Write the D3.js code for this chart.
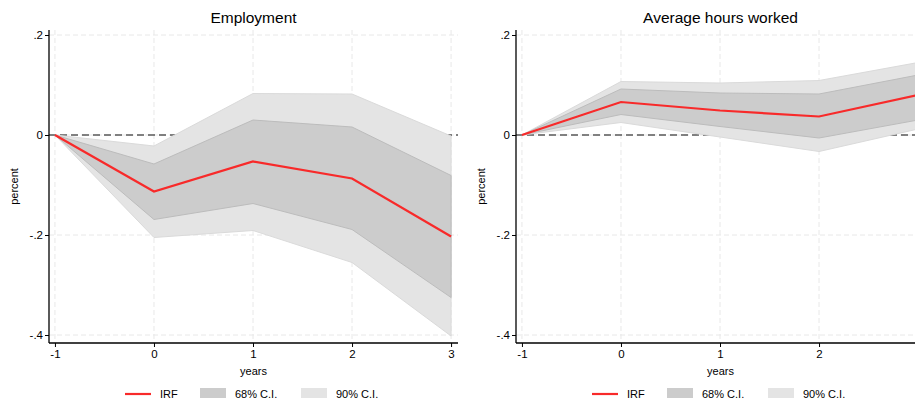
<!DOCTYPE html>
<html>
<head>
<meta charset="utf-8">
<script src="https://cdn.jsdelivr.net/npm/d3@7"></script>
<style>
  body { margin: 0; background: #fff; }
  svg { display: block; font-family: "Liberation Sans", Arial, sans-serif; }
</style>
</head>
<body>
<div id="chart"></div>
<script>
// horizon (years after shock)
var years = [-1, 0, 1, 2, 3];
var yTicks = [0.2, 0, -0.2, -0.4];
var yTickLabels = [".2", "0", "-.2", "-.4"];
var titles = ["Employment", "Average hours worked"];
var legendNames = ["IRF", "68% C.I.", "90% C.I."];

// Employment
var empIrf   = [0, -0.113, -0.053, -0.087, -0.203];
var empUp68  = [0, -0.058,  0.030,  0.016, -0.081];
var empLo68  = [0, -0.169, -0.137, -0.189, -0.325];
var empUp90  = [0, -0.022,  0.083,  0.082, -0.002];
var empLo90  = [0, -0.205, -0.191, -0.255, -0.402];

// Average hours worked
var hrsIrf   = [0, 0.066, 0.049, 0.037, 0.080];
var hrsUp68  = [0, 0.092, 0.084, 0.082, 0.120];
var hrsLo68  = [0, 0.041, 0.017, -0.006, 0.030];
var hrsUp90  = [0, 0.107, 0.104, 0.109, 0.145];
var hrsLo90  = [0, 0.025, -0.004, -0.033, 0.012];

var panels = [
  {title: titles[0], irf: empIrf, up68: empUp68, lo68: empLo68, up90: empUp90, lo90: empLo90, left: 49},
  {title: titles[1], irf: hrsIrf, up68: hrsUp68, lo68: hrsLo68, up90: hrsUp90, lo90: hrsLo90, left: 516}
];

var width = 915, height = 398;
var plotW = 409, plotTop = 30, plotBottom = 343;

var red = "#f82a2a", gray68 = "#cccccc", gray90 = "#e4e4e4";

var svg = d3.select("#chart").append("svg")
  .attr("width", width)
  .attr("height", height);

var y = d3.scaleLinear().domain([-0.416, 0.21]).range([plotBottom, plotTop]);

panels.forEach(function(p) {
  var x = d3.scaleLinear().domain([-1.06, 3.07]).range([p.left, p.left + plotW]);
  var g = svg.append("g");

  // grid
  g.selectAll(".hgrid").data(yTicks).enter().append("line")
    .attr("x1", p.left).attr("x2", p.left + plotW)
    .attr("y1", function(d) { return y(d); }).attr("y2", function(d) { return y(d); })
    .attr("stroke", "#e8e8e8").attr("stroke-dasharray", "5,3");
  g.selectAll(".vgrid").data(years).enter().append("line")
    .attr("x1", function(d) { return x(d); }).attr("x2", function(d) { return x(d); })
    .attr("y1", plotTop).attr("y2", plotBottom)
    .attr("stroke", "#e8e8e8").attr("stroke-dasharray", "5,3");

  // zero line
  g.append("line")
    .attr("x1", p.left).attr("x2", p.left + plotW)
    .attr("y1", y(0)).attr("y2", y(0))
    .attr("stroke", "#5a5a5a").attr("stroke-width", 1.4)
    .attr("stroke-dasharray", "7,4");

  var area = function(lo, up) {
    return d3.area()
      .x(function(d, i) { return x(years[i]); })
      .y0(function(d, i) { return y(lo[i]); })
      .y1(function(d, i) { return y(up[i]); })(years);
  };

  g.append("path").attr("d", area(p.lo90, p.up90))
    .attr("fill", gray90).attr("stroke", "#dadada").attr("stroke-width", 1);
  g.append("path").attr("d", area(p.lo68, p.up68))
    .attr("fill", gray68).attr("stroke", "#bcbcbc").attr("stroke-width", 1);

  g.append("path")
    .datum(p.irf)
    .attr("d", d3.line().x(function(d, i) { return x(years[i]); }).y(function(d) { return y(d); }))
    .attr("fill", "none").attr("stroke", red).attr("stroke-width", 2.2);

  // axes
  var yAxis = d3.axisLeft(y).tickValues(yTicks).tickSize(4).tickPadding(2)
    .tickFormat(function(d, i) { return yTickLabels[i]; });
  var ya = g.append("g").attr("transform", "translate(" + p.left + ",0)").call(yAxis);
  ya.select(".domain").attr("d", "M0," + plotTop + "V" + plotBottom);

  var xAxis = d3.axisBottom(x).tickValues(years).tickSize(4).tickPadding(3)
    .tickFormat(function(d) { return String(d); });
  var xa = g.append("g").attr("transform", "translate(0," + plotBottom + ")").call(xAxis);
  xa.select(".domain").attr("d", "M" + p.left + ",0H" + (p.left + plotW));

  [ya, xa].forEach(function(a) {
    a.selectAll("text").attr("font-size", 11.5).attr("fill", "#000").attr("font-family", "Liberation Sans, Arial, sans-serif");
    a.selectAll("line").attr("stroke", "#000");
    a.select(".domain").attr("stroke", "#000").attr("stroke-width", 1.3);
  });

  var cx = p.left + plotW / 2;
  g.append("text").attr("x", cx).attr("y", 23)
    .attr("text-anchor", "middle").attr("font-size", 15.5).text(p.title);
  g.append("text").attr("x", cx).attr("y", 375)
    .attr("text-anchor", "middle").attr("font-size", 11).text("years");
  g.append("text")
    .attr("transform", "translate(" + (p.left - 31) + "," + ((plotTop + plotBottom) / 2) + ") rotate(-90)")
    .attr("text-anchor", "middle").attr("font-size", 11).text("percent");

  // legend
  var lx = p.left + 76;
  var leg = g.append("g");
  leg.append("line").attr("x1", lx).attr("x2", lx + 26).attr("y1", 394).attr("y2", 394)
    .attr("stroke", red).attr("stroke-width", 2.2);
  leg.append("rect").attr("x", lx + 75).attr("y", 388).attr("width", 26).attr("height", 12).attr("fill", gray68);
  leg.append("rect").attr("x", lx + 176).attr("y", 388).attr("width", 26).attr("height", 12).attr("fill", gray90);
  var offs = [35, 110, 211];
  legendNames.forEach(function(n, i) {
    leg.append("text").attr("x", lx + offs[i]).attr("y", 397.5)
      .attr("font-size", 11).text(n);
  });
});
</script>
</body>
</html>
